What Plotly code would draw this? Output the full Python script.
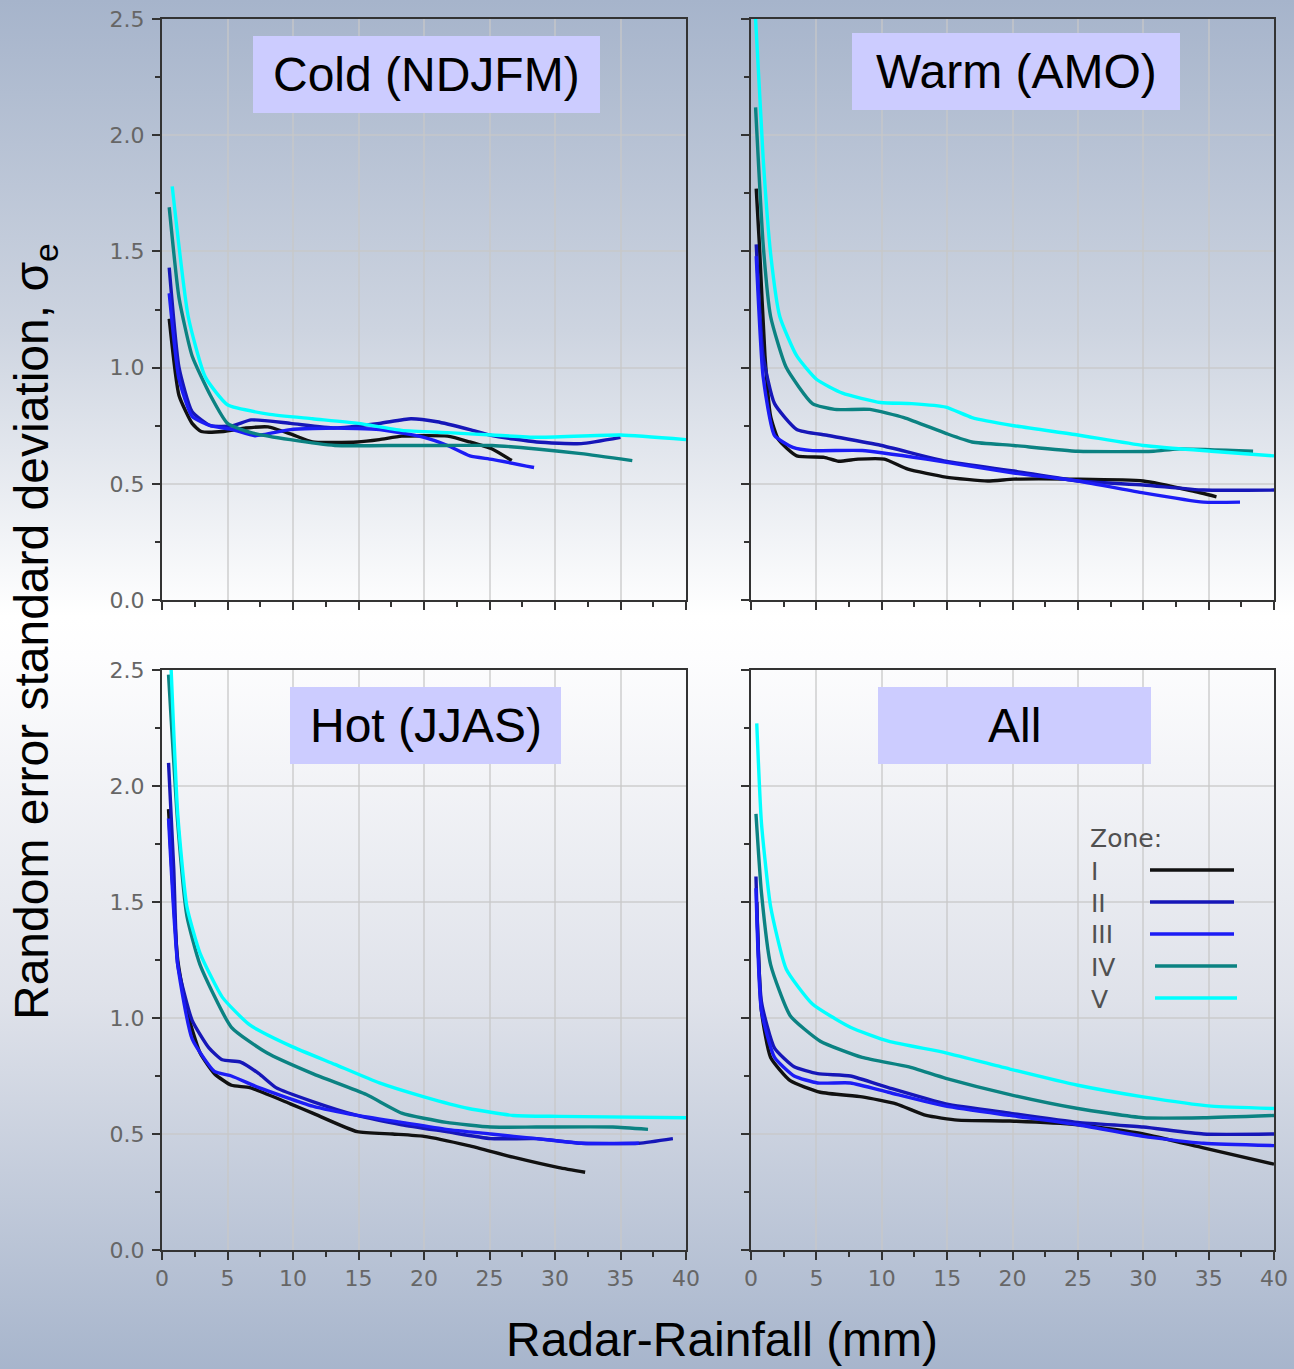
import base64
import plotly.graph_objects as go

W, H = 1294, 1369

# ---------------- data ----------------
zones = ["I", "II", "III", "IV", "V"]
zone_colors = ["#111111", "#1616b8", "#1c1cf5", "#0b8282", "#00ffff"]
panel_titles = ["Cold (NDJFM)", "Warm (AMO)", "Hot (JJAS)", "All"]

# Cold (NDJFM)
cold_I_x = [0.55, 1.3, 2.3, 3.0, 4.7, 6.4, 8.1, 9.8, 11.5, 14.9, 16.6, 18.3, 21.8, 23.5, 25.2, 26.7]
cold_I_y = [1.21, 0.88, 0.76, 0.725, 0.725, 0.74, 0.745, 0.715, 0.68, 0.68, 0.69, 0.705, 0.705, 0.68, 0.65, 0.60]
cold_II_x = [0.55, 1.3, 2.3, 3.7, 5.4, 6.8, 9.8, 13.2, 16.6, 19.0, 21.0, 23.5, 25.2, 28.6, 32.0, 35.0]
cold_II_y = [1.43, 1.00, 0.81, 0.75, 0.75, 0.775, 0.76, 0.74, 0.76, 0.78, 0.767, 0.733, 0.707, 0.68, 0.673, 0.70]
cold_III_x = [0.55, 1.3, 2.3, 3.7, 5.4, 7.1, 9.8, 13.2, 16.6, 20.0, 21.8, 23.5, 25.2, 28.4]
cold_III_y = [1.32, 0.95, 0.79, 0.75, 0.733, 0.707, 0.733, 0.74, 0.733, 0.70, 0.665, 0.62, 0.605, 0.57]
cold_IV_x = [0.55, 1.3, 2.3, 3.7, 5.0, 6.8, 9.8, 13.2, 18.3, 21.8, 25.2, 28.6, 32.0, 35.9]
cold_IV_y = [1.69, 1.30, 1.05, 0.88, 0.76, 0.72, 0.69, 0.665, 0.665, 0.665, 0.665, 0.65, 0.63, 0.60]
cold_V_x = [0.78, 2.0, 3.3, 5.0, 8.1, 11.5, 15.0, 18.3, 21.8, 25.2, 28.6, 35.0, 40.0]
cold_V_y = [1.78, 1.22, 0.96, 0.84, 0.80, 0.78, 0.76, 0.73, 0.72, 0.71, 0.70, 0.71, 0.69]

# Warm (AMO)
warm_I_x = [0.4, 0.64, 1.07, 1.5, 2.1, 3.5, 5.6, 6.7, 8.2, 10.2, 12.0, 14.9, 18.1, 20.1, 25.0, 30.0, 33.7, 35.6]
warm_I_y = [1.77, 1.53, 1.05, 0.79, 0.69, 0.62, 0.614, 0.597, 0.606, 0.606, 0.563, 0.529, 0.512, 0.52, 0.52, 0.512, 0.47, 0.444]
warm_II_x = [0.4, 0.93, 1.8, 3.5, 5.9, 9.9, 14.9, 20.1, 25.0, 30.0, 34.6, 40.0]
warm_II_y = [1.53, 1.05, 0.845, 0.734, 0.708, 0.666, 0.597, 0.555, 0.512, 0.495, 0.473, 0.473]
warm_III_x = [0.4, 0.93, 1.8, 3.2, 4.7, 8.5, 13.4, 20.1, 25.0, 30.0, 34.6, 37.4]
warm_III_y = [1.48, 0.96, 0.708, 0.657, 0.643, 0.643, 0.606, 0.546, 0.512, 0.461, 0.421, 0.421]
warm_IV_x = [0.35, 0.93, 1.5, 2.7, 4.7, 6.4, 9.1, 11.7, 14.9, 16.9, 20.1, 25.0, 30.8, 32.6, 38.4]
warm_IV_y = [2.12, 1.53, 1.22, 1.00, 0.845, 0.82, 0.82, 0.785, 0.717, 0.68, 0.665, 0.64, 0.64, 0.65, 0.64]
warm_V_x = [0.35, 0.93, 1.5, 2.2, 3.5, 5.0, 7.0, 9.9, 12.3, 14.9, 16.9, 20.1, 25.0, 30.0, 35.2, 40.0]
warm_V_y = [2.50, 1.90, 1.49, 1.22, 1.05, 0.95, 0.89, 0.85, 0.845, 0.83, 0.785, 0.75, 0.71, 0.665, 0.64, 0.62]

# Hot (JJAS)
hot_I_x = [0.5, 1.2, 1.9, 2.9, 4.0, 5.3, 6.7, 9.8, 11.5, 14.9, 17.6, 20.0, 23.4, 26.8, 30.3, 32.3]
hot_I_y = [1.90, 1.25, 1.03, 0.85, 0.76, 0.71, 0.70, 0.63, 0.59, 0.51, 0.50, 0.49, 0.45, 0.40, 0.355, 0.335]
hot_II_x = [0.5, 0.9, 1.2, 2.3, 3.6, 4.6, 6.0, 7.4, 8.7, 11.5, 14.9, 18.3, 21.7, 25.1, 28.6, 32.0, 36.4, 39.0]
hot_II_y = [2.10, 1.64, 1.23, 0.99, 0.87, 0.82, 0.81, 0.76, 0.70, 0.64, 0.58, 0.54, 0.51, 0.48, 0.48, 0.46, 0.46, 0.48]
hot_III_x = [0.5, 1.2, 2.3, 4.0, 5.3, 7.4, 11.5, 14.9, 18.3, 21.7, 25.1, 28.6, 32.0, 36.4]
hot_III_y = [1.86, 1.23, 0.91, 0.77, 0.75, 0.70, 0.62, 0.58, 0.55, 0.52, 0.50, 0.48, 0.46, 0.46]
hot_IV_x = [0.5, 1.2, 1.9, 2.9, 5.3, 8.0, 11.5, 15.6, 18.3, 21.7, 25.1, 28.6, 34.4, 37.1]
hot_IV_y = [2.48, 1.84, 1.44, 1.23, 0.96, 0.85, 0.76, 0.67, 0.59, 0.55, 0.53, 0.53, 0.53, 0.52]
hot_V_x = [0.7, 1.2, 1.9, 2.9, 4.6, 6.7, 9.8, 13.2, 16.6, 20.0, 23.4, 26.8, 30.3, 40.0]
hot_V_y = [2.50, 1.88, 1.48, 1.28, 1.09, 0.97, 0.88, 0.80, 0.72, 0.66, 0.61, 0.58, 0.576, 0.57]

# All
all_I_x = [0.44, 0.8, 1.5, 3.0, 5.3, 8.5, 11.1, 13.4, 15.8, 19.8, 25.0, 30.0, 34.6, 40.0]
all_I_y = [1.50, 1.03, 0.83, 0.73, 0.68, 0.66, 0.63, 0.58, 0.56, 0.556, 0.54, 0.50, 0.44, 0.37]
all_II_x = [0.38, 0.8, 1.8, 3.3, 5.1, 7.6, 10.5, 14.9, 19.8, 25.0, 30.0, 34.6, 40.0]
all_II_y = [1.61, 1.07, 0.87, 0.79, 0.76, 0.75, 0.70, 0.63, 0.59, 0.55, 0.53, 0.50, 0.50]
all_III_x = [0.38, 0.8, 1.8, 3.3, 5.1, 7.6, 10.5, 14.9, 19.8, 25.0, 30.0, 34.6, 40.0]
all_III_y = [1.56, 1.03, 0.83, 0.75, 0.72, 0.72, 0.68, 0.62, 0.58, 0.54, 0.49, 0.46, 0.45]
all_IV_x = [0.38, 0.8, 1.5, 3.0, 5.3, 8.5, 12.0, 14.9, 19.8, 25.0, 30.0, 34.6, 40.0]
all_IV_y = [1.88, 1.54, 1.23, 1.01, 0.90, 0.83, 0.79, 0.74, 0.67, 0.61, 0.57, 0.57, 0.58]
all_V_x = [0.44, 0.8, 1.5, 2.7, 4.7, 7.6, 10.5, 14.9, 19.8, 25.0, 30.0, 35.2, 40.0]
all_V_y = [2.27, 1.84, 1.48, 1.21, 1.06, 0.96, 0.90, 0.85, 0.78, 0.71, 0.66, 0.62, 0.61]

panels = [
    [(cold_I_x, cold_I_y), (cold_II_x, cold_II_y), (cold_III_x, cold_III_y), (cold_IV_x, cold_IV_y), (cold_V_x, cold_V_y)],
    [(warm_I_x, warm_I_y), (warm_II_x, warm_II_y), (warm_III_x, warm_III_y), (warm_IV_x, warm_IV_y), (warm_V_x, warm_V_y)],
    [(hot_I_x, hot_I_y), (hot_II_x, hot_II_y), (hot_III_x, hot_III_y), (hot_IV_x, hot_IV_y), (hot_V_x, hot_V_y)],
    [(all_I_x, all_I_y), (all_II_x, all_II_y), (all_III_x, all_III_y), (all_IV_x, all_IV_y), (all_V_x, all_V_y)],
]

x_tickvals = [0, 5, 10, 15, 20, 25, 30, 35, 40]
y_tickvals = [0.0, 0.5, 1.0, 1.5, 2.0, 2.5]
y_ticktext = ["0.0", "0.5", "1.0", "1.5", "2.0", "2.5"]

# ---------------- layout geometry (pixels) ----------------
def px(x):
    return x / W

def py(y):
    return 1 - y / H

x_doms = [(162, 686), (751, 1274), (162, 686), (751, 1274)]
y_doms = [(19, 600), (19, 600), (670, 1250), (670, 1250)]
title_boxes = [(253, 36, 600, 113), (852, 33, 1180, 110), (290, 687, 561, 764), (878, 687, 1151, 764)]

fig = go.Figure()

for p, series in enumerate(panels):
    xa = "x" if p == 0 else f"x{p+1}"
    ya = "y" if p == 0 else f"y{p+1}"
    for (xs, ys), name, col in zip(series, zones, zone_colors):
        fig.add_trace(go.Scatter(x=xs, y=ys, mode="lines", name=name, xaxis=xa, yaxis=ya,
                                 line=dict(color=col, width=3.4, shape="spline", smoothing=0.5),
                                 showlegend=False))

tick_font = dict(family="DejaVu Sans", size=22, color="#666666")
grid_col = "rgba(200,200,200,0.65)"
layout_axes = {}
for p in range(4):
    xk = "xaxis" if p == 0 else f"xaxis{p+1}"
    yk = "yaxis" if p == 0 else f"yaxis{p+1}"
    yanchor = "y" if p == 0 else f"y{p+1}"
    xanchor = "x" if p == 0 else f"x{p+1}"
    layout_axes[xk] = dict(
        domain=[px(x_doms[p][0]), px(x_doms[p][1])], anchor=yanchor, range=[0, 40],
        tickvals=x_tickvals, ticks="outside", ticklen=8, tickwidth=2, tickcolor="#333",
        showticklabels=(p >= 2), tickfont=tick_font, ticklabelstandoff=0, automargin=False,
        showline=True, linecolor="#333", linewidth=2, mirror=True,
        showgrid=True, gridcolor=grid_col, gridwidth=1.5, zeroline=False,
        minor=dict(tickvals=[2.5, 7.5, 12.5, 17.5, 22.5, 27.5, 32.5, 37.5], ticks="outside",
                   ticklen=5, tickwidth=2, tickcolor="#333", showgrid=False),
        fixedrange=True,
    )
    layout_axes[yk] = dict(
        domain=[py(y_doms[p][1]), py(y_doms[p][0])], anchor=xanchor, range=[0, 2.5],
        tickvals=y_tickvals, ticktext=y_ticktext, ticks="outside", ticklen=8, tickwidth=2, tickcolor="#333",
        showticklabels=(p % 2 == 0), tickfont=tick_font, ticklabelstandoff=3, automargin=False,
        showline=True, linecolor="#333", linewidth=2, mirror=True,
        showgrid=True, gridcolor=grid_col, gridwidth=1.5, zeroline=False,
        minor=dict(tickvals=[0.25, 0.75, 1.25, 1.75, 2.25], ticks="outside",
                   ticklen=5, tickwidth=2, tickcolor="#333", showgrid=False),
        fixedrange=True,
    )

# background gradient as an svg image
svg = (
    '<svg xmlns="http://www.w3.org/2000/svg" width="1294" height="1369" preserveAspectRatio="none">'
    '<defs><linearGradient id="g" x1="0" y1="0" x2="0" y2="1">'
    '<stop offset="0" stop-color="#a6b4cb"/>'
    '<stop offset="0.241" stop-color="#cdd4e0"/>'
    '<stop offset="0.45" stop-color="#ffffff"/>'
    '<stop offset="0.48" stop-color="#fdfdfe"/>'
    '<stop offset="0.73" stop-color="#dfe2ea"/>'
    '<stop offset="1" stop-color="#a7b5cc"/>'
    '</linearGradient></defs>'
    '<rect x="0" y="0" width="1294" height="1369" fill="url(#g)"/></svg>'
)
src = "data:image/svg+xml;base64," + base64.b64encode(svg.encode()).decode()

shapes = []
annotations = []
for (x0, y0, x1, y1), t in zip(title_boxes, panel_titles):
    shapes.append(dict(type="rect", xref="paper", yref="paper", x0=px(x0), x1=px(x1), y0=py(y1), y1=py(y0),
                       fillcolor="#ccccff", line=dict(width=0), layer="above"))
    annotations.append(dict(text=t, xref="paper", yref="paper", x=px((x0 + x1) / 2), y=py((y0 + y1) / 2),
                            xanchor="center", yanchor="middle", showarrow=False,
                            font=dict(family="Liberation Sans, Arial", size=48, color="#000")))

# legend drawn inside the "All" panel
annotations.append(dict(text="Zone:", xref="paper", yref="paper", x=px(1088), y=py(838), xanchor="left",
                        yanchor="middle", showarrow=False, font=dict(family="DejaVu Sans", size=25, color="#505050")))
leg_y = [870, 902, 934, 966, 998]
leg_x0 = [1150, 1150, 1150, 1155, 1155]
leg_x1 = [1234, 1234, 1234, 1237, 1237]
for name, col, yy, a, b in zip(zones, zone_colors, leg_y, leg_x0, leg_x1):
    annotations.append(dict(text=name, xref="paper", yref="paper", x=px(1089), y=py(yy + 1), xanchor="left",
                            yanchor="middle", showarrow=False,
                            font=dict(family="DejaVu Sans", size=25, color="#505050")))
    shapes.append(dict(type="line", xref="paper", yref="paper", x0=px(a), x1=px(b), y0=py(yy), y1=py(yy),
                       line=dict(color=col, width=3.5), layer="above"))

# axis titles
annotations.append(dict(text="Random error standard deviation, σ<sub>e</sub>", xref="paper", yref="paper",
                        x=px(35), y=py(632), textangle=-90, xanchor="center", yanchor="middle", showarrow=False,
                        font=dict(family="Liberation Sans, Arial", size=48, color="#000")))
annotations.append(dict(text="Radar-Rainfall (mm)", xref="paper", yref="paper", x=px(722), y=py(1339),
                        xanchor="center", yanchor="middle", showarrow=False,
                        font=dict(family="Liberation Sans, Arial", size=48, color="#000")))

fig.update_layout(
    width=W, height=H, autosize=False,
    margin=dict(l=0, r=0, t=0, b=0, pad=0, autoexpand=False),
    paper_bgcolor="#ffffff", plot_bgcolor="rgba(0,0,0,0)",
    showlegend=False,
    images=[dict(source=src, xref="paper", yref="paper", x=0, y=1, sizex=1, sizey=1,
                 sizing="stretch", xanchor="left", yanchor="top", layer="below")],
    shapes=shapes, annotations=annotations,
    **layout_axes,
)

post = (
    "document.documentElement.style.margin='0';"
    "document.body.style.margin='0';document.body.style.padding='0';"
)
fig.write_html("out.html", post_script=post)
